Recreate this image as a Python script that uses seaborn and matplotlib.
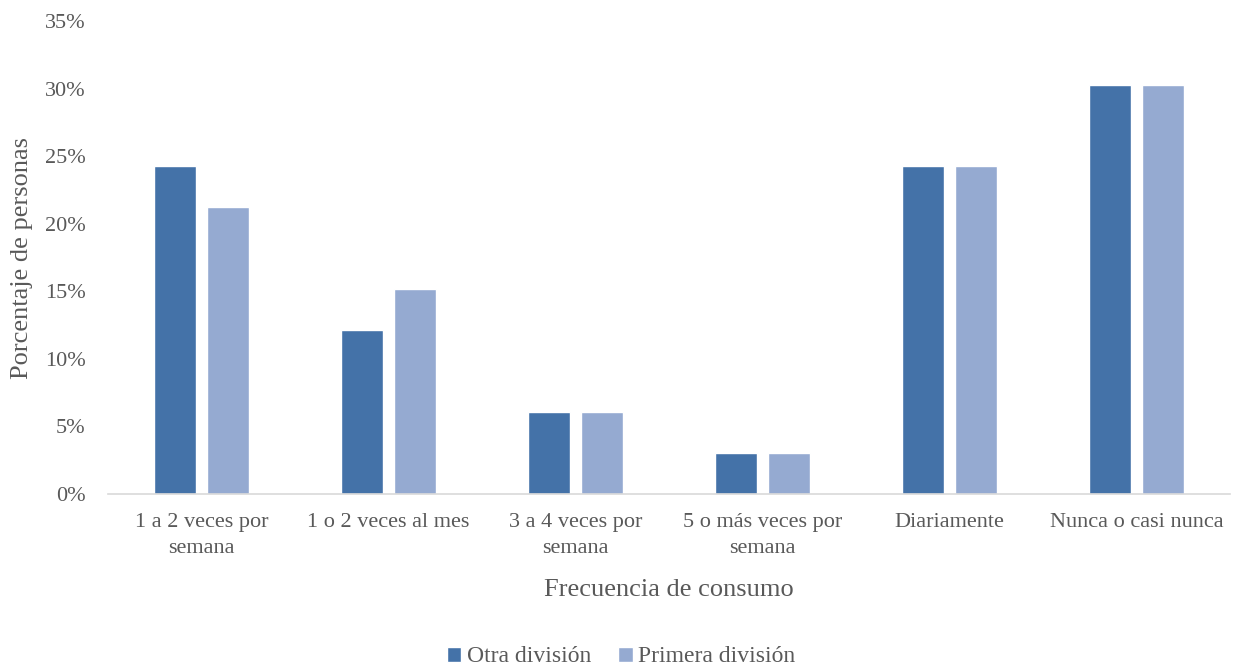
import matplotlib
matplotlib.use("Agg")
import matplotlib.pyplot as plt
import seaborn as sns
import pandas as pd

categorias = ["1 a 2 veces por\nsemana", "1 o 2 veces al mes", "3 a 4 veces por\nsemana",
              "5 o más veces por\nsemana", "Diariamente", "Nunca o casi nunca"]
otra_division = [24.24, 12.12, 6.06, 3.03, 24.24, 30.30]
primera_division = [21.21, 15.15, 6.06, 3.03, 24.24, 30.30]
series = ["Otra división", "Primera división"]
colores = ["#4472A8", "#95AAD1"]

df = pd.DataFrame({
    "cat": categorias * 2,
    "valor": otra_division + primera_division,
    "serie": [series[0]] * len(categorias) + [series[1]] * len(categorias),
})

sns.set_theme(style="white")
plt.rcParams["font.family"] = ["Liberation Serif", "DejaVu Serif"]
gris = "#595959"

fig = plt.figure(figsize=(12.35, 6.67), dpi=100)
ax = fig.add_axes([108 / 1235, 1 - 494 / 667, (1230 - 108) / 1235, (494 - 21) / 667])

sns.barplot(data=df, x="cat", y="valor", hue="serie", palette=colores,
            width=0.567, gap=0.206, saturation=1, ax=ax, legend=True)

ax.set_ylim(0, 35)
ax.set_xlim(-0.5, len(categorias) - 0.5)
ax.set_yticks(range(0, 36, 5))
ax.set_yticklabels([f"{v}%" for v in range(0, 36, 5)])
for s in ["top", "right", "left"]:
    ax.spines[s].set_visible(False)
ax.spines["bottom"].set_color("#D9D9D9")
ax.spines["bottom"].set_linewidth(1.2)
ax.tick_params(axis="both", length=0, labelsize=16, colors=gris)
ax.tick_params(axis="y", pad=16)
ax.tick_params(axis="x", pad=14)
for lbl in ax.get_xticklabels():
    lbl.set_linespacing(1.45)
ax.set_xlabel("Frecuencia de consumo", fontsize=19, color=gris)
ax.xaxis.set_label_coords(0.5, -0.179)
ax.set_ylabel("Porcentaje de personas", fontsize=19, color=gris)
ax.yaxis.set_label_coords(-0.067, 0.5)

handles, labels = ax.get_legend_handles_labels()
ax.get_legend().remove()
leg = fig.legend(handles, labels, loc="center", bbox_to_anchor=(0.503, 1 - 657 / 667),
                 ncol=2, frameon=False, fontsize=17, handlelength=0.6, handleheight=0.6,
                 handletextpad=0.25, columnspacing=1.15)
for t in leg.get_texts():
    t.set_color(gris)

fig.savefig("out.png", dpi=100)
